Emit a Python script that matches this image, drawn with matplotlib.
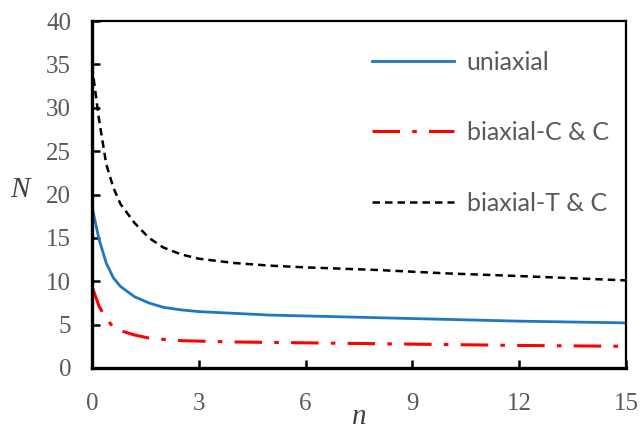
import matplotlib
matplotlib.use("Agg")
import matplotlib.pyplot as plt

# data
n = [0, 0.2, 0.4, 0.6, 0.8, 1.2, 1.6, 2, 2.5, 3, 4, 5, 6, 8, 10, 12, 15]
N_uni = [18.6, 14.8, 12.1, 10.4, 9.4, 8.2, 7.5, 7.0, 6.7, 6.5, 6.3, 6.1, 6.0, 5.8, 5.6, 5.4, 5.2]
N_cc = [9.4, 7.1, 5.7, 4.7, 4.3, 3.8, 3.45, 3.3, 3.15, 3.1, 3.0, 2.95, 2.9, 2.8, 2.7, 2.6, 2.5]
N_tc = [34.8, 28.6, 23.5, 20.8, 18.9, 16.7, 15.0, 13.9, 13.1, 12.6, 12.1, 11.8, 11.6, 11.3, 10.9, 10.6, 10.1]
labels = ["uniaxial", "biaxial-C & C", "biaxial-T & C"]
xticks = [0, 3, 6, 9, 12, 15]
yticks = [0, 5, 10, 15, 20, 25, 30, 35, 40]

fig = plt.figure(figsize=(6.41, 4.29), dpi=100)
ax = fig.add_axes([0.1435, 0.1422, 0.8331, 0.8088])

ax.plot(n, N_uni, color="#1f77c0", lw=2.0, label=labels[0])
ax.plot(n, N_cc, color="#ff0000", lw=2.2, dashes=(9, 4, 1.5, 4), label=labels[1])
ax.plot(n, N_tc, color="black", lw=1.8, dashes=(3, 2), label=labels[2])

ax.set_xlim(0, 15)
ax.set_ylim(0, 40)
ax.set_xticks(xticks)
ax.set_yticks(yticks)

# serif grey tick labels, ticks pointing inward
ax.tick_params(direction="in", length=6, width=1.8, pad=15,
               labelsize=18, labelcolor="#595959", top=False, right=False)
for lab in ax.get_xticklabels() + ax.get_yticklabels():
    lab.set_family("Liberation Serif")
ax.tick_params(axis="x", pad=18)

for side in ["left", "bottom"]:
    ax.spines[side].set_linewidth(2.4)
for side in ["top", "right"]:
    ax.spines[side].set_linewidth(1.6)

ax.set_xlabel("n", family="Liberation Serif", style="italic", fontsize=21,
              color="#404040", labelpad=-8)
ax.set_ylabel("N", family="Liberation Serif", style="italic", fontsize=21,
              color="#404040", rotation=0)
ax.yaxis.set_label_coords(-0.135, 0.475)

leg = ax.legend(loc="upper left", bbox_to_anchor=(0.524, 0.915), frameon=False,
                borderpad=0, borderaxespad=0, handlelength=3.3, handletextpad=0.5,
                labelspacing=1.9, prop={"family": "Lato", "size": 18})
for t in leg.get_texts():
    t.set_color("#595959")

plt.savefig("out.png", dpi=100)
